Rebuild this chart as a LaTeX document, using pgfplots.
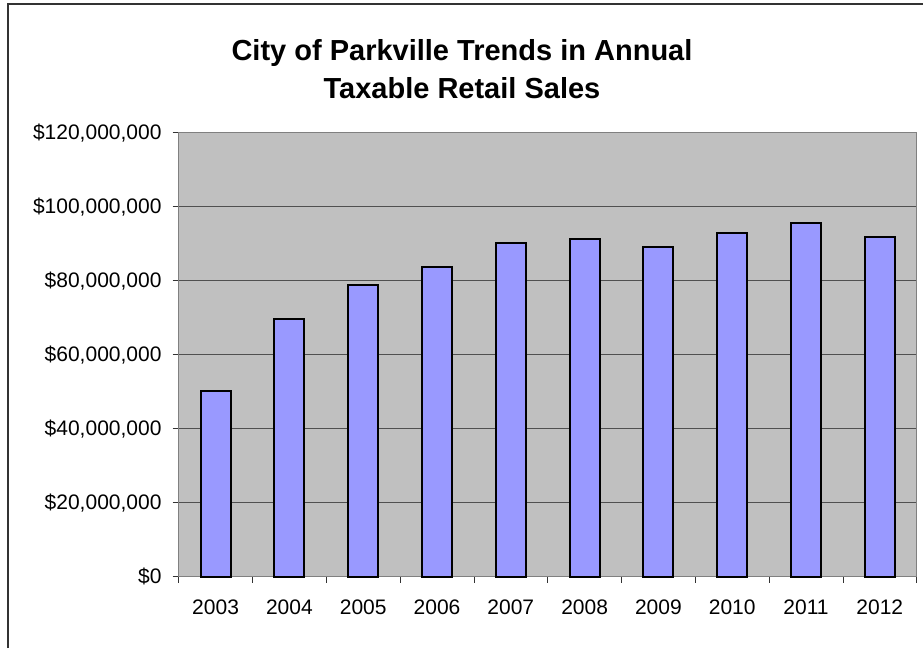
\documentclass[border=0pt]{standalone}
\usepackage{pgfplots}
\pgfplotsset{compat=1.18}
\usepackage{fontspec}
\setmainfont{Liberation Sans}
\definecolor{plotbg}{HTML}{C0C0C0}
\definecolor{barfill}{HTML}{9999FF}
\definecolor{gridc}{HTML}{505050}
\definecolor{axisc}{HTML}{808080}
\begin{document}
\begin{tikzpicture}[x=1pt,y=1pt]
\path[use as bounding box, fill=white] (0,0) rectangle (923,648);
\draw[line width=1.5pt, black!80] (8,0) -- (8,644) -- (923,644);
\node[font=\fontsize{29}{38}\selectfont\bfseries, align=center] at (462,579) {City of Parkville Trends in Annual\\Taxable Retail Sales};
\begin{axis}[
  at={(178.7pt,71.3pt)}, anchor=south west,
  scale only axis, width=738pt, height=444pt,
  xmin=-0.5, xmax=9.5, ymin=0, ymax=120000000,
  ybar, bar width=30pt,
  axis background/.style={fill=plotbg},
  axis line style={draw=axisc, line width=1.5pt},
  xtick={0,1,2,3,4,5,6,7,8,9},
  xticklabels={2003,2004,2005,2006,2007,2008,2009,2010,2011,2012},
  minor xtick={-0.5,0.5,1.5,2.5,3.5,4.5,5.5,6.5,7.5,8.5,9.5},
  major x tick style={draw=none},
  minor x tick style={draw=black!80, line width=0.8pt},
  minor tick length=6pt,
  major tick length=6pt,
  tick align=outside,
  x tick style={draw=none},
  y tick style={draw=black!80, line width=0.8pt},
  ytick={0,20000000,40000000,60000000,80000000,100000000,120000000},
  yticklabels={{\$0},{\$20,000,000},{\$40,000,000},{\$60,000,000},{\$80,000,000},{\$100,000,000},{\$120,000,000}},
  scaled y ticks=false,
  ymajorgrids, grid style={draw=gridc, line width=0.8pt},
  xticklabel style={font=\fontsize{21}{24}\selectfont, inner sep=0pt, anchor=north, yshift=-17pt},
  yticklabel style={font=\fontsize{21}{24}\selectfont, inner sep=0pt, anchor=east, xshift=-11pt},
  tick pos=left,
  clip=false,
]
\addplot[fill=barfill, draw=black, line width=2pt] coordinates {
  (0,50300000) (1,69600000) (2,78900000) (3,83800000) (4,90300000)
  (5,91400000) (6,89200000) (7,93000000) (8,95700000) (9,91900000)
};
\end{axis}
\end{tikzpicture}
\end{document}
